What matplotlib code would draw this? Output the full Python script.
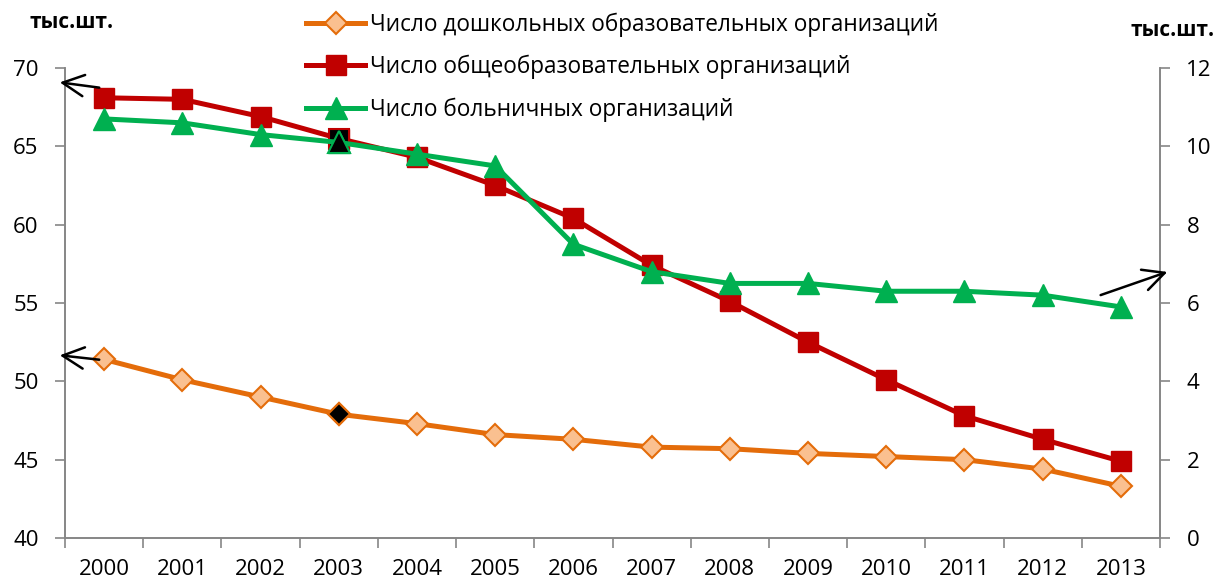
import numpy as np
import matplotlib
matplotlib.use('Agg')
import matplotlib.pyplot as plt
from matplotlib.patches import FancyArrowPatch

plt.rcParams['font.family'] = ['Open Sans', 'DejaVu Sans']

years = ['2000', '2001', '2002', '2003', '2004', '2005', '2006',
         '2007', '2008', '2009', '2010', '2011', '2012', '2013']

# left axis, thousand units
preschool = [51.4, 50.1, 49.0, 47.9, 47.3, 46.6, 46.3,
             45.8, 45.7, 45.4, 45.2, 45.0, 44.4, 43.3]
schools = [68.1, 68.0, 66.9, 65.5, 64.3, 62.5, 60.4,
           57.4, 55.1, 52.5, 50.1, 47.8, 46.3, 44.9]
# right axis, thousand units
hospitals = [10.7, 10.6, 10.3, 10.1, 9.8, 9.5, 7.5,
             6.8, 6.5, 6.5, 6.3, 6.3, 6.2, 5.9]

label_pre = 'Число дошкольных образовательных организаций'
label_sch = 'Число общеобразовательных организаций'
label_hos = 'Число больничных организаций'
unit = 'тыс.шт.'
highlight = 3  # 2003 drawn with black markers

c_orange = '#E46C0A'
c_peach = '#FAC090'
c_red = '#C00000'
c_green = '#00B050'
c_axis = '#868686'

fig = plt.figure(figsize=(12.17, 5.83), dpi=100)
ax = fig.add_axes([65 / 1217, 45 / 583, 1095 / 1217, 470 / 583])
ax2 = ax.twinx()

x = np.arange(len(years))

l1, = ax.plot(x, preschool, color=c_orange, lw=3.6, marker='D', ms=11,
              mfc=c_peach, mec=c_orange, mew=1.5, zorder=3)
l2, = ax.plot(x, schools, color=c_red, lw=3.6, marker='s', ms=15,
              mfc=c_red, mec=c_red, zorder=3)
l3, = ax2.plot(x, hospitals, color=c_green, lw=3.6, marker='^', ms=16,
               mfc=c_green, mec=c_green, zorder=3)

# black markers for 2003
ax.plot(x[highlight], preschool[highlight], marker='D', ms=11, mfc='black',
        mec=c_orange, mew=1.5, zorder=4)
ax.plot(x[highlight], schools[highlight], marker='s', ms=15, mfc='black',
        mec=c_red, mew=1.5, zorder=4)
ax2.plot(x[highlight], hospitals[highlight], marker='^', ms=16, mfc='black',
         mec=c_green, mew=1.5, zorder=4)

ax.set_xlim(-0.5, len(years) - 0.5)
ax.set_ylim(40, 70)
ax2.set_ylim(0, 12)
ax.set_yticks(np.arange(40, 71, 5))
ax2.set_yticks(np.arange(0, 13, 2))

# category boundaries as ticks, labels centered on categories
ax.set_xticks(np.arange(-0.5, len(years), 1.0))
ax.set_xticklabels([])
ax.set_xticks(x, minor=True)
ax.set_xticklabels(years, minor=True)
ax.tick_params(axis='x', which='major', length=7, color=c_axis, width=1.2)
ax.tick_params(axis='x', which='minor', length=0, pad=15, labelsize=16)
ax.tick_params(axis='y', length=7, color=c_axis, width=1.2, labelsize=16, pad=12)
ax2.tick_params(axis='y', length=7, color=c_axis, width=1.2, labelsize=16, pad=12)

for a in (ax, ax2):
    a.spines['top'].set_visible(False)
    for s in ('left', 'right', 'bottom'):
        a.spines[s].set_color(c_axis)
        a.spines[s].set_linewidth(1.2)

fig.legend([l1, l2, l3], [label_pre, label_sch, label_hos],
           loc='upper left', bbox_to_anchor=(294 / 1217, 1.0), frameon=False,
           fontsize=16.3, handlelength=2.6, handletextpad=0.2, labelspacing=0.8,
           borderaxespad=0.15)

fig.text(30 / 1217, 1 - 22 / 583, unit, fontsize=15, fontweight='bold',
         va='center', ha='left')
fig.text(1215 / 1217, 1 - 30 / 583, unit, fontsize=15, fontweight='bold',
         va='center', ha='right')

# pointer arrows to the axes
arrow = dict(arrowstyle='->,head_length=0.7,head_width=0.35', color='black',
             lw=1.8, mutation_scale=22)
fig.add_artist(FancyArrowPatch(
    (102 / 1217, 1 - 88 / 583), (57 / 1217, 1 - 82 / 583),
    transform=fig.transFigure, **arrow))
fig.add_artist(FancyArrowPatch(
    (102 / 1217, 1 - 360 / 583), (57 / 1217, 1 - 355 / 583),
    transform=fig.transFigure, **arrow))
fig.add_artist(FancyArrowPatch(
    (1098 / 1217, 1 - 296 / 583), (1170 / 1217, 1 - 271 / 583),
    transform=fig.transFigure, **arrow))

fig.savefig('out.png', dpi=100)
